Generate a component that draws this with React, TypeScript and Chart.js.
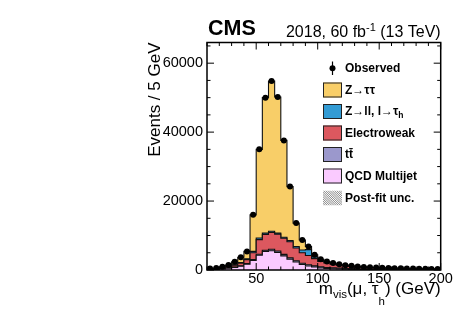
import React, { useEffect, useRef } from 'react';
import { Chart, registerables } from 'chart.js';

Chart.register(...registerables);

// Bin lower edges (GeV), 5 GeV bins
const binEdges = [
  10, 15, 20, 25, 30, 35, 40, 45, 50, 55,
  60, 65, 70, 75, 80, 85, 90, 95, 100, 105,
  110, 115, 120, 125, 130, 135, 140, 145, 150, 155,
  160, 165, 170, 175, 180, 185, 190, 195,
];
const binUpper = 200;

const observed = [
  400, 600, 950, 1450, 2400, 3700, 5400, 16000, 35000, 50000,
  54800, 50200, 37600, 24200, 13600, 8700, 6800, 4400, 3100, 2450,
  2000, 1650, 1400, 1200, 1050, 900, 800, 720, 650, 580,
  530, 480, 440, 410, 380, 350, 320, 300,
];
const qcd = [
  150, 220, 330, 500, 750, 1100, 1700, 2800, 4300, 5400,
  5600, 5100, 4100, 3100, 2300, 1600, 1150, 850, 600, 450,
  350, 280, 220, 180, 150, 120, 100, 90, 80, 70,
  60, 55, 50, 45, 40, 35, 30, 30,
];
const ttbar = [
  20, 30, 40, 60, 80, 110, 150, 200, 280, 350,
  400, 420, 420, 410, 400, 380, 360, 340, 310, 290,
  270, 250, 230, 210, 190, 175, 160, 145, 130, 120,
  110, 100, 90, 85, 80, 75, 70, 65,
];
const electroweak = [
  110, 150, 230, 340, 570, 790, 1150, 2000, 4220, 4550,
  4900, 4880, 4680, 4690, 3700, 3020, 2690, 2110, 1590, 1310,
  1060, 870, 730, 620, 540, 465, 410, 365, 330, 290,
  270, 245, 225, 210, 195, 180, 165, 155,
];
const zll = [
  20, 30, 40, 60, 100, 150, 250, 400, 500, 400,
  350, 300, 300, 350, 400, 800, 1700, 500, 300, 200,
  150, 110, 90, 70, 60, 50, 45, 40, 35, 30,
  30, 25, 25, 20, 20, 20, 20, 15,
];
const ztt = [
  100, 170, 310, 490, 900, 1550, 2150, 10600, 25700, 39300,
  43550, 39500, 28100, 15650, 6800, 2900, 900, 600, 300, 200,
  170, 140, 130, 120, 110, 90, 85, 80, 75, 70,
  60, 55, 50, 50, 45, 40, 35, 35,
];

const xTickValues = [50, 100, 150, 200];
const yTickValues = [0, 20000, 40000, 60000];
const xMin = 10;
const yMax = 66000;

const FONT = '"Liberation Sans", Arial, Helvetica, sans-serif';

const components = [
  { name: 'QCD Multijet', values: qcd, color: 'rgb(250,202,255)' },
  { name: 'tt', values: ttbar, color: 'rgb(155,152,204)' },
  { name: 'Electroweak', values: electroweak, color: 'rgb(220,88,95)' },
  { name: 'Zll', values: zll, color: 'rgb(50,155,212)' },
  { name: 'Ztt', values: ztt, color: 'rgb(248,206,104)' },
];

type Part = { t: string; size: number; bold?: boolean; dy?: number };

function setFont(ctx: CanvasRenderingContext2D, p: Part) {
  ctx.font = `${p.bold ? 'bold ' : ''}${p.size}px ${FONT}`;
}
function partsWidth(ctx: CanvasRenderingContext2D, parts: Part[]) {
  let w = 0;
  for (const p of parts) {
    setFont(ctx, p);
    w += ctx.measureText(p.t).width;
  }
  return w;
}
function drawParts(ctx: CanvasRenderingContext2D, parts: Part[], x: number, y: number) {
  let cx = x;
  ctx.textAlign = 'left';
  for (const p of parts) {
    setFont(ctx, p);
    ctx.fillText(p.t, cx, y + (p.dy || 0));
    cx += ctx.measureText(p.t).width;
  }
}

const rootStyle = {
  id: 'rootStyle',
  afterDraw(chart: any) {
    const { ctx, chartArea: a, scales } = chart;
    const xs = scales.x;
    const ys = scales.y;
    ctx.save();
    ctx.strokeStyle = '#000';
    ctx.fillStyle = '#000';
    const seg = (x1: number, y1: number, x2: number, y2: number) => {
      ctx.beginPath();
      ctx.moveTo(x1, y1);
      ctx.lineTo(x2, y2);
      ctx.stroke();
    };
    // ticks
    ctx.lineWidth = 1;
    for (let v = 0; v <= yMax; v += 5000) {
      const py = ys.getPixelForValue(v);
      const len = v % 20000 === 0 ? 7 : 3.5;
      seg(a.left, py, a.left + len, py);
      seg(a.right, py, a.right - len, py);
    }
    for (let v = xMin; v <= binUpper; v += 10) {
      const px = xs.getPixelForValue(v);
      const len = v % 50 === 0 ? 7 : 3.5;
      seg(px, a.bottom, px, a.bottom - len);
      seg(px, a.top, px, a.top + len);
    }
    // frame
    ctx.lineWidth = 1.5;
    ctx.strokeRect(a.left, a.top, a.right - a.left, a.bottom - a.top);

    // titles
    ctx.textBaseline = 'alphabetic';
    drawParts(ctx, [{ t: 'CMS', size: 21.5, bold: true }], a.left + 1, 35);
    const lumi: Part[] = [
      { t: '2018, 60 fb', size: 16 },
      { t: '-1', size: 11, dy: -6 },
      { t: ' (13 TeV)', size: 16 },
    ];
    drawParts(ctx, lumi, a.right - partsWidth(ctx, lumi), 36.5);

    // y title
    ctx.save();
    ctx.translate(155, a.top);
    ctx.rotate(-Math.PI / 2);
    ctx.textAlign = 'right';
    ctx.textBaseline = 'middle';
    ctx.font = `17px ${FONT}`;
    ctx.fillText('Events / 5 GeV', 0, 0);
    ctx.restore();

    // x title
    ctx.textBaseline = 'alphabetic';
    const xt: Part[] = [
      { t: 'm', size: 17 },
      { t: 'vis', size: 11.5, dy: 4 },
      { t: '(\u03bc, \u03c4', size: 17 },
      { t: 'h', size: 11.5, dy: 11 },
      { t: ') (GeV)', size: 17 },
    ];
    drawParts(ctx, xt, a.right - partsWidth(ctx, xt), 294);

    // legend
    const bx = 323;
    const bw = 19;
    const bh = 15;
    const tx = 345;
    ctx.textBaseline = 'middle';
    // observed
    ctx.lineWidth = 1.2;
    seg(332.5, 61.5, 332.5, 75);
    ctx.beginPath();
    ctx.arc(332.5, 68.3, 3, 0, Math.PI * 2);
    ctx.fill();
    drawParts(ctx, [{ t: 'Observed', size: 12, bold: true }], tx, 68.5);

    const rows: { cy: number; color?: string; parts: Part[]; hatch?: boolean }[] = [
      { cy: 90, color: components[4].color, parts: [{ t: 'Z\u2192\u03c4\u03c4', size: 12, bold: true }] },
      {
        cy: 111.5,
        color: components[3].color,
        parts: [
          { t: 'Z\u2192ll, l\u2192\u03c4', size: 12, bold: true },
          { t: 'h', size: 8.5, bold: true, dy: 4 },
        ],
      },
      { cy: 133, color: components[2].color, parts: [{ t: 'Electroweak', size: 12, bold: true }] },
      { cy: 154.5, color: components[1].color, parts: [{ t: 't\u0074\u0304', size: 12, bold: true }] },
      { cy: 176, color: components[0].color, parts: [{ t: 'QCD Multijet', size: 12, bold: true }] },
      { cy: 198, hatch: true, parts: [{ t: 'Post-fit unc.', size: 12, bold: true }] },
    ];
    for (const r of rows) {
      const top = r.cy - bh / 2;
      if (r.hatch) {
        ctx.save();
        ctx.beginPath();
        ctx.rect(bx, top, bw, bh);
        ctx.clip();
        ctx.strokeStyle = '#666';
        ctx.lineWidth = 0.8;
        for (let k = -bh; k < bw + bh; k += 2.2) {
          seg(bx + k, top, bx + k + bh, top + bh);
        }
        ctx.restore();
      } else {
        ctx.fillStyle = r.color as string;
        ctx.fillRect(bx, top, bw, bh);
        ctx.strokeStyle = '#222';
        ctx.lineWidth = 1;
        ctx.strokeRect(bx + 0.5, top + 0.5, bw - 1, bh - 1);
      }
      ctx.fillStyle = '#000';
      drawParts(ctx, r.parts, tx, r.cy + 0.5);
    }
    ctx.restore();
  },
};

export default function App() {
  const ref = useRef<HTMLCanvasElement | null>(null);

  useEffect(() => {
    if (!ref.current) return;
    const n = binEdges.length;
    const cumulative: number[][] = [];
    let running = new Array(n).fill(0);
    for (const c of components) {
      running = running.map((v, i) => v + c.values[i]);
      cumulative.push(running.slice());
    }
    const stepData = (vals: number[]) => {
      const pts = binEdges.map((e, i) => ({ x: e, y: vals[i] }));
      pts.push({ x: binUpper, y: vals[n - 1] });
      return pts;
    };
    const stackSets = components.map((c, k) => ({
      label: c.name,
      data: stepData(cumulative[k]),
      stepped: true,
      fill: 'origin',
      backgroundColor: c.color,
      borderColor: '#111',
      borderWidth: 1.1,
      pointRadius: 0,
      order: k + 1,
    }));
    const obsSet = {
      label: 'Observed',
      data: binEdges.map((e, i) => ({ x: e + 2.5, y: observed[i] })),
      showLine: false,
      pointRadius: 3,
      pointBackgroundColor: '#000',
      pointBorderWidth: 0,
      order: 0,
    };

    const chart = new Chart(ref.current, {
      type: 'line',
      data: { datasets: [obsSet, ...stackSets] as any },
      options: {
        animation: false,
        responsive: false,
        devicePixelRatio: 1,
        layout: { padding: { left: 0, right: 33.3, top: 42.5, bottom: 0 } },
        plugins: { legend: { display: false }, tooltip: { enabled: false } },
        scales: {
          x: {
            type: 'linear',
            min: xMin,
            max: binUpper,
            grid: { display: false, drawTicks: false },
            border: { display: false },
            ticks: {
              color: '#000',
              font: { size: 14.5, family: FONT },
              padding: 0,
              maxRotation: 0,
              autoSkip: false,
              callback: (v: any) => String(v),
            },
            afterBuildTicks: (s: any) => {
              s.ticks = xTickValues.map((v) => ({ value: v }));
            },
            afterFit: (s: any) => {
              s.height = 64;
            },
          },
          y: {
            type: 'linear',
            min: 0,
            max: yMax,
            grid: { display: false, drawTicks: false },
            border: { display: false },
            ticks: {
              color: '#000',
              font: { size: 14.5, family: FONT },
              padding: 4,
              callback: (v: any) => String(v),
            },
            afterBuildTicks: (s: any) => {
              s.ticks = yTickValues.map((v) => ({ value: v }));
            },
            afterFit: (s: any) => {
              s.width = 207;
            },
          },
        },
      } as any,
      plugins: [rootStyle],
    });
    return () => chart.destroy();
  }, []);

  return (
    <div style={{ position: 'absolute', left: 0, top: 0, width: 474, height: 334, background: '#fff' }}>
      <canvas ref={ref} width={474} height={334} style={{ display: 'block' }} />
    </div>
  );
}
